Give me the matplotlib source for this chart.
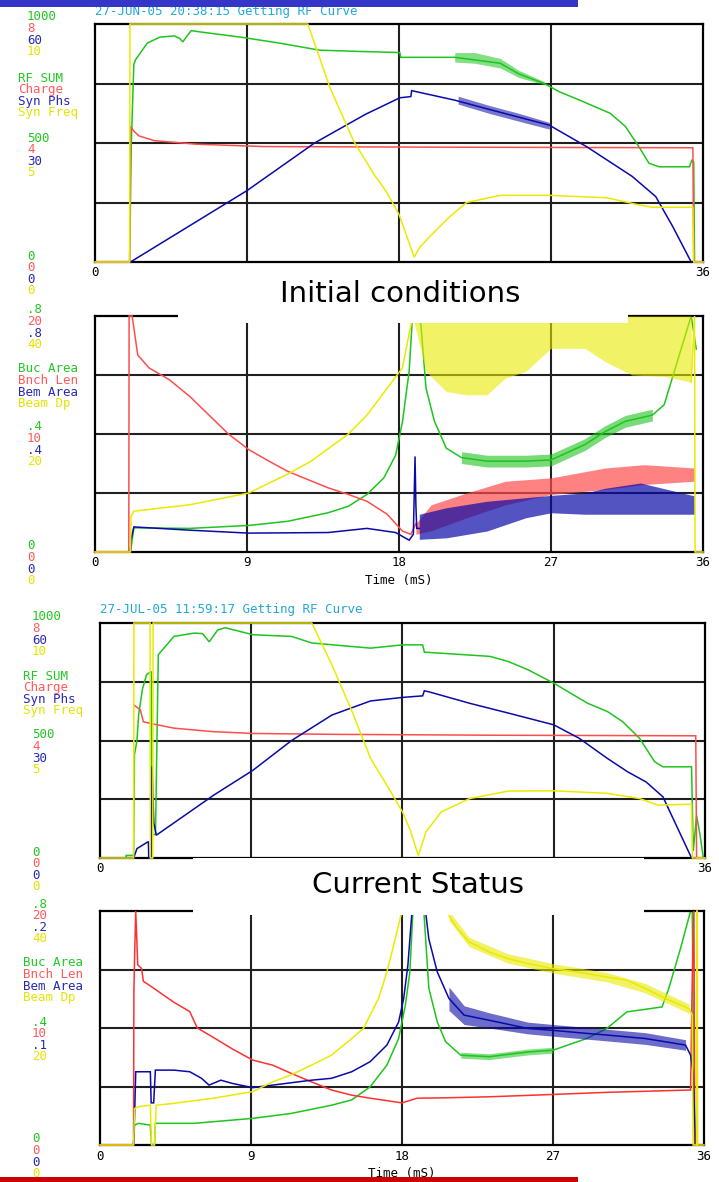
import matplotlib
matplotlib.use("Agg")
import matplotlib.pyplot as plt
from matplotlib.patches import Rectangle

W, H = 719, 1182

# ---------------- colours ----------------
C_GREEN = "#1fc41f"
C_RED = "#ff4d4d"
C_BLUE = "#0a0aa8"
C_YELLOW = "#eaea00"
C_CYAN = "#22a8d8"

# ---------------- Panel 1 : 27-JUN-05 RF curve ----------------
p1_rf_t = [0, 2.05, 2.15, 2.3, 2.4, 2.9, 3.1, 3.85, 4.7, 5.0, 5.2, 5.45, 5.7, 6.3, 8.6, 10.9, 13.3, 15.5,
           18.05, 18.1, 21.3, 24.0, 25.1, 26.6, 27.5, 28.7, 30.5, 31.4, 32.2, 32.8, 33.4, 35.2, 35.35, 35.45, 35.5, 36]
p1_rf_v = [0, 0, 500, 830, 850, 900, 920, 945, 950, 940, 925, 950, 972, 966, 945, 920, 890, 885,
           880, 860, 860, 835, 790, 750, 715, 680, 625, 570, 485, 415, 400, 400, 430, 420, 0, 0]
p1_rf_band_t = [21.3, 22.5, 24.0, 25.1, 26.6]
p1_rf_band_lo = [840, 835, 815, 775, 745]
p1_rf_band_hi = [880, 880, 855, 805, 758]

p1_charge_t = [0, 2.05, 2.1, 2.3, 2.6, 3.5, 6.0, 10.0, 20.0, 35.4, 35.45, 36]
p1_charge_v = [0, 0, 4.56, 4.4, 4.24, 4.08, 3.96, 3.88, 3.86, 3.84, 0, 0]

p1_phs_t = [2.1, 9.0, 13.0, 16.0, 18.05, 18.7, 18.75, 21.3, 23.4, 26.9, 29.1, 31.8, 33.2, 34.2, 35.3]
p1_phs_v = [0, 18, 30, 37.2, 41.4, 41.7, 43.2, 40.8, 38.4, 34.5, 29.1, 21.6, 16.5, 9, 0]
p1_phs_band_t = [21.5, 23.4, 25.0, 26.9]
p1_phs_band_lo = [39.8, 37.4, 35.6, 33.5]
p1_phs_band_hi = [41.8, 39.4, 37.6, 35.2]

p1_freq_t = [0, 2.05, 2.07, 12.6, 13.9, 15.3, 16.5, 17.3, 18.0, 18.5, 18.9, 19.2, 20.0, 21.0, 22.0, 24.0,
             26.9, 30.3, 32.2, 33.0, 35.4, 35.45, 36]
p1_freq_v = [0, 0, 10, 10, 7.35, 5.1, 3.7, 2.9, 2.0, 1.0, 0.2, 0.6, 1.2, 1.9, 2.5, 2.8,
             2.8, 2.7, 2.4, 2.3, 2.3, 0, 0]

# ---------------- Panel 2 : Initial conditions ----------------
p2_buc_t = [2.1, 2.3, 5.6, 9.1, 11.4, 13.8, 15.0, 16.1, 17.1, 17.8, 18.2, 18.6, 18.8, 19.2, 19.3, 19.6, 20.1,
            20.8, 21.7, 23.2, 25.5, 27.0, 29.0, 30.2, 31.4, 33.0, 33.7, 34.3, 34.9, 35.3, 35.6]
p2_buc_v = [0, 0.082, 0.08, 0.09, 0.104, 0.133, 0.155, 0.195, 0.251, 0.328, 0.44, 0.612, 0.8, 0.8, 0.768, 0.555,
            0.443, 0.352, 0.32, 0.308, 0.308, 0.312, 0.364, 0.408, 0.443, 0.464, 0.499, 0.612, 0.725, 0.8, 0.688]
p2_buc_band_t = [21.7, 23.2, 25.5, 27.0, 29.0, 30.2, 31.4, 33.0]
p2_buc_band_lo = [0.30, 0.288, 0.288, 0.292, 0.344, 0.388, 0.423, 0.444]
p2_buc_band_hi = [0.34, 0.328, 0.328, 0.332, 0.384, 0.428, 0.463, 0.484]

p2_len_t = [0, 2.0, 2.02, 2.2, 2.53, 3.2, 4.4, 5.6, 6.75, 7.9, 9.1, 10.3, 11.4, 12.6, 13.8, 15.0, 16.1, 17.3,
            18.2, 18.7, 19.0]
p2_len_v = [0, 0, 20, 20, 16.7, 15.6, 14.6, 13.2, 11.6, 10.0, 8.68, 7.7, 6.84, 6.14, 5.44, 4.88, 4.3, 3.2,
            1.78, 1.5, 2.4]
p2_len_band_t = [19.0, 19.9, 22.0, 24.3, 27.0, 30.2, 32.5, 35.5]
p2_len_band_lo = [1.5, 1.8, 2.9, 4.0, 4.88, 5.3, 5.72, 6.0]
p2_len_band_hi = [2.4, 4.0, 5.0, 6.0, 6.28, 7.12, 7.4, 7.12]

p2_bem_t = [2.1, 2.13, 2.3, 5.6, 9.1, 13.8, 16.1, 17.8, 18.6, 18.85, 18.95, 19.0, 19.05, 19.2]
p2_bem_v = [0, 0.04, 0.085, 0.074, 0.064, 0.066, 0.08, 0.066, 0.04, 0.06, 0.324, 0.16, 0.08, 0.08]
p2_bem_band_t = [19.2, 20.8, 23.2, 25.5, 27.0, 29.0, 30.2, 32.3, 35.5]
p2_bem_band_lo = [0.043, 0.048, 0.071, 0.116, 0.133, 0.128, 0.128, 0.128, 0.128]
p2_bem_band_hi = [0.128, 0.15, 0.172, 0.184, 0.192, 0.2, 0.216, 0.234, 0.19]

p2_dp_t = [0, 2.1, 2.13, 2.3, 5.6, 9.1, 11.4, 12.8, 15.0, 16.1, 17.3, 18.2, 18.7, 18.8]
p2_dp_v = [0, 0, 6, 6.92, 8, 10, 13.2, 15.4, 20, 23.2, 27.76, 31.2, 38.4, 40]
p2_dp_band_t = [18.8, 19.6, 20.8, 22.0, 23.2, 24.3, 25.5, 27.0, 29.0, 30.2, 31.8, 33.7, 35.3]
p2_dp_band_lo = [40, 30.6, 27.2, 26.64, 26.64, 29.48, 30.6, 34.52, 34.52, 32.28, 30, 29.76, 28.8]
p2_dp_band_hi = [40, 40, 40, 40, 40, 40, 40, 40, 40, 40, 40, 40, 40]
p2_dp_tail_t = [35.3, 35.5, 35.53, 36]
p2_dp_tail_v = [28.8, 40, 0, 0]

# ---------------- Panel 3 : 27-JUL-05 RF curve ----------------
p3_rf_t = [0, 1.55, 1.56, 2.0, 2.05, 2.2, 2.3, 2.53, 2.77, 3.05, 3.1, 3.3, 3.47, 4.4, 5.6, 6.1, 6.5, 7.0, 7.45,
           9.1, 11.4, 12.6, 16.1, 18.0, 19.2, 19.3, 23.2, 24.3, 25.5, 27.0, 29.0, 30.2, 31.1, 32.1, 33.0, 33.5,
           35.2, 35.3, 35.5, 35.7, 35.9]
p3_rf_v = [0, 0, 11, 11, 440, 500, 610, 720, 780, 794, 100, 100, 865, 943, 957, 955, 920, 970, 980,
           950, 943, 915, 893, 907, 907, 876, 858, 836, 800, 744, 659, 623, 580, 510, 410, 388,
           388, 30, 180, 100, 0]

p3_charge_t = [2.02, 2.4, 2.58, 3.0, 4.4, 6.75, 9.1, 13.8, 23.2, 35.45, 35.5, 36]
p3_charge_v = [5.21, 5.04, 4.64, 4.58, 4.42, 4.3, 4.24, 4.21, 4.18, 4.16, 0, 0]

p3_phs_t = [2.0, 2.2, 2.88, 2.9, 3.05, 3.1, 3.2, 3.35, 6.75, 9.1, 11.4, 13.8, 16.1, 18.0, 19.2, 19.3, 19.6,
            22.0, 24.3, 27.0, 28.5, 30.2, 31.4, 32.5, 33.5, 35.2]
p3_phs_v = [0, 2.4, 4.2, 0, 0, 23.4, 9, 5.82, 16.0, 22.4, 30, 36.5, 40.1, 41, 41.4, 42.7, 42.4,
            39.5, 37, 34, 30.6, 25.4, 22, 19.4, 15.6, 0]

p3_freq_t = [0, 2.0, 2.02, 2.98, 3.0, 3.14, 3.16, 12.6, 13.8, 15.0, 16.1, 17.3, 18.0, 18.5, 18.94, 19.4, 20.3,
             22.0, 24.3, 27.0, 30.2, 32.1, 33.2, 35.2, 35.25, 36]
p3_freq_v = [0, 0, 10, 10, 0, 0, 10, 10, 8.22, 6.23, 4.24, 2.82, 1.96, 1.11, 0.1, 1.11, 1.96,
             2.53, 2.85, 2.86, 2.75, 2.53, 2.25, 2.29, 0, 0]

# ---------------- Panel 4 : Current status ----------------
p4_buc_t = [2.0, 2.06, 2.3, 3.0, 3.07, 3.25, 3.3, 5.6, 9.1, 11.4, 13.8, 15.0, 16.1, 17.1, 17.8, 18.2, 18.47,
            18.65, 19.3, 19.6, 20.1, 20.6, 21.5, 23.2, 25.5, 27.0, 29.0, 30.2, 31.4, 33.5, 33.9, 34.6, 35.2,
            35.3, 35.4, 35.45]
p4_buc_v = [0, 0.068, 0.074, 0.068, 0, 0, 0.074, 0.074, 0.091, 0.108, 0.136, 0.154, 0.199, 0.273, 0.364,
            0.478, 0.592, 0.8, 0.8, 0.536, 0.421, 0.353, 0.307, 0.302, 0.318, 0.324, 0.364, 0.398, 0.455,
            0.472, 0.535, 0.672, 0.8, 0.8, 0.16, 0]
p4_buc_band_t = [21.5, 23.2, 25.5, 27.0]
p4_buc_band_lo = [0.297, 0.292, 0.308, 0.314]
p4_buc_band_hi = [0.317, 0.312, 0.328, 0.334]

p4_len_t = [0, 2.0, 2.02, 2.06, 2.13, 2.25, 2.48, 2.58, 3.2, 4.4, 5.35, 5.8, 6.75, 7.9, 9.1, 10.3, 11.4,
            12.6, 13.8, 15.0, 16.1, 18.0, 18.9, 20.8, 23.2, 27.0, 30.2, 35.2, 35.3, 35.4, 35.45]
p4_len_v = [0, 0, 13, 16, 20, 15.4, 15.08, 14, 13.4, 12.2, 11.4, 10, 9.2, 8.2, 7.26, 6.82, 6.12,
            5.4, 4.7, 4.26, 4, 3.6, 4, 4.04, 4.12, 4.32, 4.5, 4.7, 14.2, 20, 0]

p4_bem_t = [2.0, 2.06, 2.13, 3.0, 3.05, 3.2, 3.3, 4.4, 5.35, 6.05, 6.5, 7.2, 7.9, 9.1, 10.3, 12.6, 13.8,
            15.0, 16.1, 17.1, 17.8, 18.1, 18.35, 18.47, 18.6, 19.4, 19.6, 20.1, 20.8, 21.7, 23.2, 25.5,
            27.0, 29.0, 30.2, 32.5, 34.9, 35.2, 35.35, 35.5]
p4_bem_v = [0, 0.024, 0.0626, 0.0626, 0.036, 0.036, 0.064, 0.064, 0.0626, 0.057, 0.0512, 0.0554, 0.0526,
            0.049, 0.0512, 0.0554, 0.057, 0.0626, 0.0712, 0.0854, 0.1052, 0.1252, 0.1536, 0.176, 0.2,
            0.2, 0.176, 0.148, 0.1252, 0.111, 0.1066, 0.0996, 0.098, 0.0954, 0.094, 0.091, 0.0854,
            0.0768, 0.062, 0]
p4_bem_band_t = [20.8, 21.7, 23.2, 25.5, 27.0, 30.2, 32.5, 34.9]
p4_bem_band_lo = [0.115, 0.103, 0.1, 0.095, 0.093, 0.089, 0.086, 0.081]
p4_bem_band_hi = [0.135, 0.119, 0.113, 0.105, 0.103, 0.099, 0.096, 0.09]

p4_dp_t = [0, 2.0, 2.06, 2.3, 3.0, 3.07, 3.25, 3.35, 4.4, 6.75, 9.1, 10.3, 11.4, 12.6, 13.8, 15.0, 15.7,
           16.1, 16.6, 17.1, 17.5, 18.0]
p4_dp_v = [0, 0, 6.24, 6.56, 6.8, 0, 0, 6.8, 7.12, 8, 9.12, 10.8, 12, 13.64, 15.36, 18.2, 19.92,
           22.2, 25.04, 29.6, 34.12, 40]
p4_dp2_t = [20.6, 20.8, 21.3, 22.0, 23.2, 24.3, 25.5, 27.0, 29.0, 30.2, 31.4, 32.5, 33.7, 35.1, 35.3,
            35.35, 35.55, 35.57, 35.6, 35.62, 36]
p4_dp2_v = [40, 39.2, 37, 34.72, 33, 31.88, 31, 30.16, 29.32, 28.72, 28.16, 26.76, 25.04, 23.32, 22.2,
            0, 0, 40, 40, 0, 0]
p4_dp_band_t = [20.8, 22.0, 24.3, 27.0, 30.2, 32.5, 35.1]
p4_dp_band_lo = [38.4, 33.9, 31.1, 29.4, 27.9, 26.0, 22.5]
p4_dp_band_hi = [40, 35.5, 32.7, 31.0, 29.5, 27.6, 24.1]

# ---------------- labels ----------------
rf_names = ["RF SUM", "Charge", "Syn Phs", "Syn Freq"]
rf_top = ["1000", "8", "60", "10"]
rf_mid = ["500", "4", "30", "5"]
bunch_names = ["Buc Area", "Bnch Len", "Bem Area", "Beam Dp"]
p2_top = [".8", "20", ".8", "40"]
p2_mid = [".4", "10", ".4", "20"]
p4_top = [".8", "20", ".2", "40"]
p4_mid = [".4", "10", ".1", "20"]
zeros = ["0", "0", "0", "0"]
x_ticks = [0, 9, 18, 27, 36]

rf_scales = [1000, 8, 60, 10]
p2_scales = [0.8, 20, 0.8, 40]
p4_scales = [0.8, 20, 0.2, 40]

LAB_COLORS = ["#22c822", "#ff5a5a", "#2828b0", "#e4e400"]

MONO = "DejaVu Sans Mono"

fig = plt.figure(figsize=(W / 100, H / 100), dpi=100)
fig.patch.set_facecolor("white")


def fx(x):
    return x / W


def fy(y):
    return 1 - y / H


def make_panel(l, t, r, b, scales):
    ax = fig.add_axes([fx(l), fy(b), (r - l) / W, (b - t) / H])
    ax.set_xlim(0, 36)
    ax.set_ylim(0, scales[0])
    ax.set_xticks([])
    ax.set_yticks([])
    for s in ax.spines.values():
        s.set_color("black")
        s.set_linewidth(1.6)
    for xv in (9, 18, 27):
        ax.axvline(xv, color="#202020", lw=1.5, zorder=0.5)
    for fr in (0.25, 0.5, 0.75):
        ax.axhline(scales[0] * fr, color="#202020", lw=1.5, zorder=0.5)
    axes = [ax]
    for sc in scales[1:]:
        tw = ax.twinx()
        tw.set_ylim(0, sc)
        tw.axis("off")
        axes.append(tw)
    return axes


def line(ax, t, v, color, lw=1.1):
    ax.plot(t, v, color=color, lw=lw, clip_on=False, solid_joinstyle="miter")


def band(ax, t, lo, hi, color, alpha=0.65):
    ax.fill_between(t, lo, hi, color=color, alpha=alpha, lw=0)


def labels(x_num, x_name, y_top, y_name, y_mid, y_zero, top, names, mid):
    step = 11.6
    for i in range(4):
        kw = dict(color=LAB_COLORS[i], family=MONO, fontsize=9, va="center", ha="left")
        fig.text(fx(x_num), fy(y_top + i * step), top[i], **kw)
        fig.text(fx(x_name), fy(y_name + i * step), names[i], **kw)
        fig.text(fx(x_num), fy(y_mid + i * step), mid[i], **kw)
        fig.text(fx(x_num), fy(y_zero + i * step), zeros[i], **kw)


def xtick_labels(l, r, y, ticks):
    for tk in ticks:
        xp = l + (r - l) * tk / 36
        fig.text(fx(xp), fy(y), str(tk), family=MONO, fontsize=9, ha="center", va="center", color="black")


# ---- Panel 1
a = make_panel(95, 24, 703, 262, rf_scales)
band(a[0], p1_rf_band_t, p1_rf_band_lo, p1_rf_band_hi, C_GREEN, alpha=0.55)
line(a[0], p1_rf_t, p1_rf_v, C_GREEN)
line(a[1], p1_charge_t, p1_charge_v, C_RED)
band(a[2], p1_phs_band_t, p1_phs_band_lo, p1_phs_band_hi, C_BLUE, alpha=0.55)
line(a[2], p1_phs_t, p1_phs_v, C_BLUE)
line(a[3], p1_freq_t, p1_freq_v, C_YELLOW)
labels(27, 18, 17, 78, 138, 256, rf_top, rf_names, rf_mid)
xtick_labels(95, 703, 273, [0, 36])
fig.text(fx(95), fy(11), "27-JUN-05 20:38:15 Getting RF Curve", family=MONO, fontsize=9,
         color=C_CYAN, ha="left", va="center")

# ---- Panel 2
a = make_panel(95, 316, 703, 552, p2_scales)
band(a[0], p2_buc_band_t, p2_buc_band_lo, p2_buc_band_hi, C_GREEN, alpha=0.6)
line(a[0], p2_buc_t, p2_buc_v, C_GREEN)
band(a[1], p2_len_band_t, p2_len_band_lo, p2_len_band_hi, C_RED, alpha=0.7)
line(a[1], p2_len_t, p2_len_v, C_RED)
band(a[2], p2_bem_band_t, p2_bem_band_lo, p2_bem_band_hi, C_BLUE, alpha=0.7)
line(a[2], p2_bem_t, p2_bem_v, C_BLUE)
band(a[3], p2_dp_band_t, p2_dp_band_lo, p2_dp_band_hi, C_YELLOW, alpha=0.6)
line(a[3], p2_dp_t, p2_dp_v, C_YELLOW)
line(a[3], p2_dp_tail_t, p2_dp_tail_v, C_YELLOW)
labels(27, 18, 310, 369, 427, 546, p2_top, bunch_names, p2_mid)
xtick_labels(95, 703, 563, x_ticks)
fig.text(fx(399), fy(581), "Time (mS)", family=MONO, fontsize=9, ha="center", va="center")

# ---- Panel 3
a = make_panel(100, 623, 705, 858, rf_scales)
line(a[0], p3_rf_t, p3_rf_v, C_GREEN)
line(a[1], p3_charge_t, p3_charge_v, C_RED)
line(a[2], p3_phs_t, p3_phs_v, C_BLUE)
line(a[3], p3_freq_t, p3_freq_v, C_YELLOW)
labels(32, 23, 617, 676, 735, 852, rf_top, rf_names, rf_mid)
xtick_labels(100, 705, 869, [0, 36])
fig.text(fx(100), fy(610), "27-JUL-05 11:59:17 Getting RF Curve", family=MONO, fontsize=9,
         color=C_CYAN, ha="left", va="center")

# ---- Panel 4
a = make_panel(100, 911, 704, 1145, p4_scales)
band(a[0], p4_buc_band_t, p4_buc_band_lo, p4_buc_band_hi, C_GREEN, alpha=0.55)
line(a[0], p4_buc_t, p4_buc_v, C_GREEN)
line(a[1], p4_len_t, p4_len_v, "#ff3030")
band(a[2], p4_bem_band_t, p4_bem_band_lo, p4_bem_band_hi, C_BLUE, alpha=0.6)
line(a[2], p4_bem_t, p4_bem_v, C_BLUE)
band(a[3], p4_dp_band_t, p4_dp_band_lo, p4_dp_band_hi, C_YELLOW, alpha=0.6)
line(a[3], p4_dp_t, p4_dp_v, C_YELLOW)
line(a[3], p4_dp2_t, p4_dp2_v, C_YELLOW)
labels(32, 23, 904, 963, 1022, 1139, p4_top, bunch_names, p4_mid)
xtick_labels(100, 704, 1156, x_ticks)
fig.text(fx(402), fy(1173), "Time (mS)", family=MONO, fontsize=9, ha="center", va="center")

# ---- white title boxes (cover parts of the frames) and titles
for (x0, y0, x1, y1) in [(178, 266, 628, 323), (193, 858, 644, 915)]:
    fig.patches.append(Rectangle((fx(x0), fy(y1)), (x1 - x0) / W, (y1 - y0) / H,
                                 transform=fig.transFigure, facecolor="white", edgecolor="none", zorder=2))
fig.text(fx(400), fy(294), "Initial conditions", fontsize=21, ha="center", va="center", color="black", zorder=4)
fig.text(fx(418), fy(885), "Current Status", fontsize=21, ha="center", va="center", color="black", zorder=4)

# ---- top blue and bottom red bars
fig.patches.append(Rectangle((0, fy(7)), 578 / W, 7 / H, transform=fig.transFigure,
                             facecolor="#3535c8", edgecolor="none", zorder=5))
fig.patches.append(Rectangle((0, 0), 578 / W, 5 / H, transform=fig.transFigure,
                             facecolor="#cc0000", edgecolor="none", zorder=5))

fig.savefig("out.png", dpi=100)
